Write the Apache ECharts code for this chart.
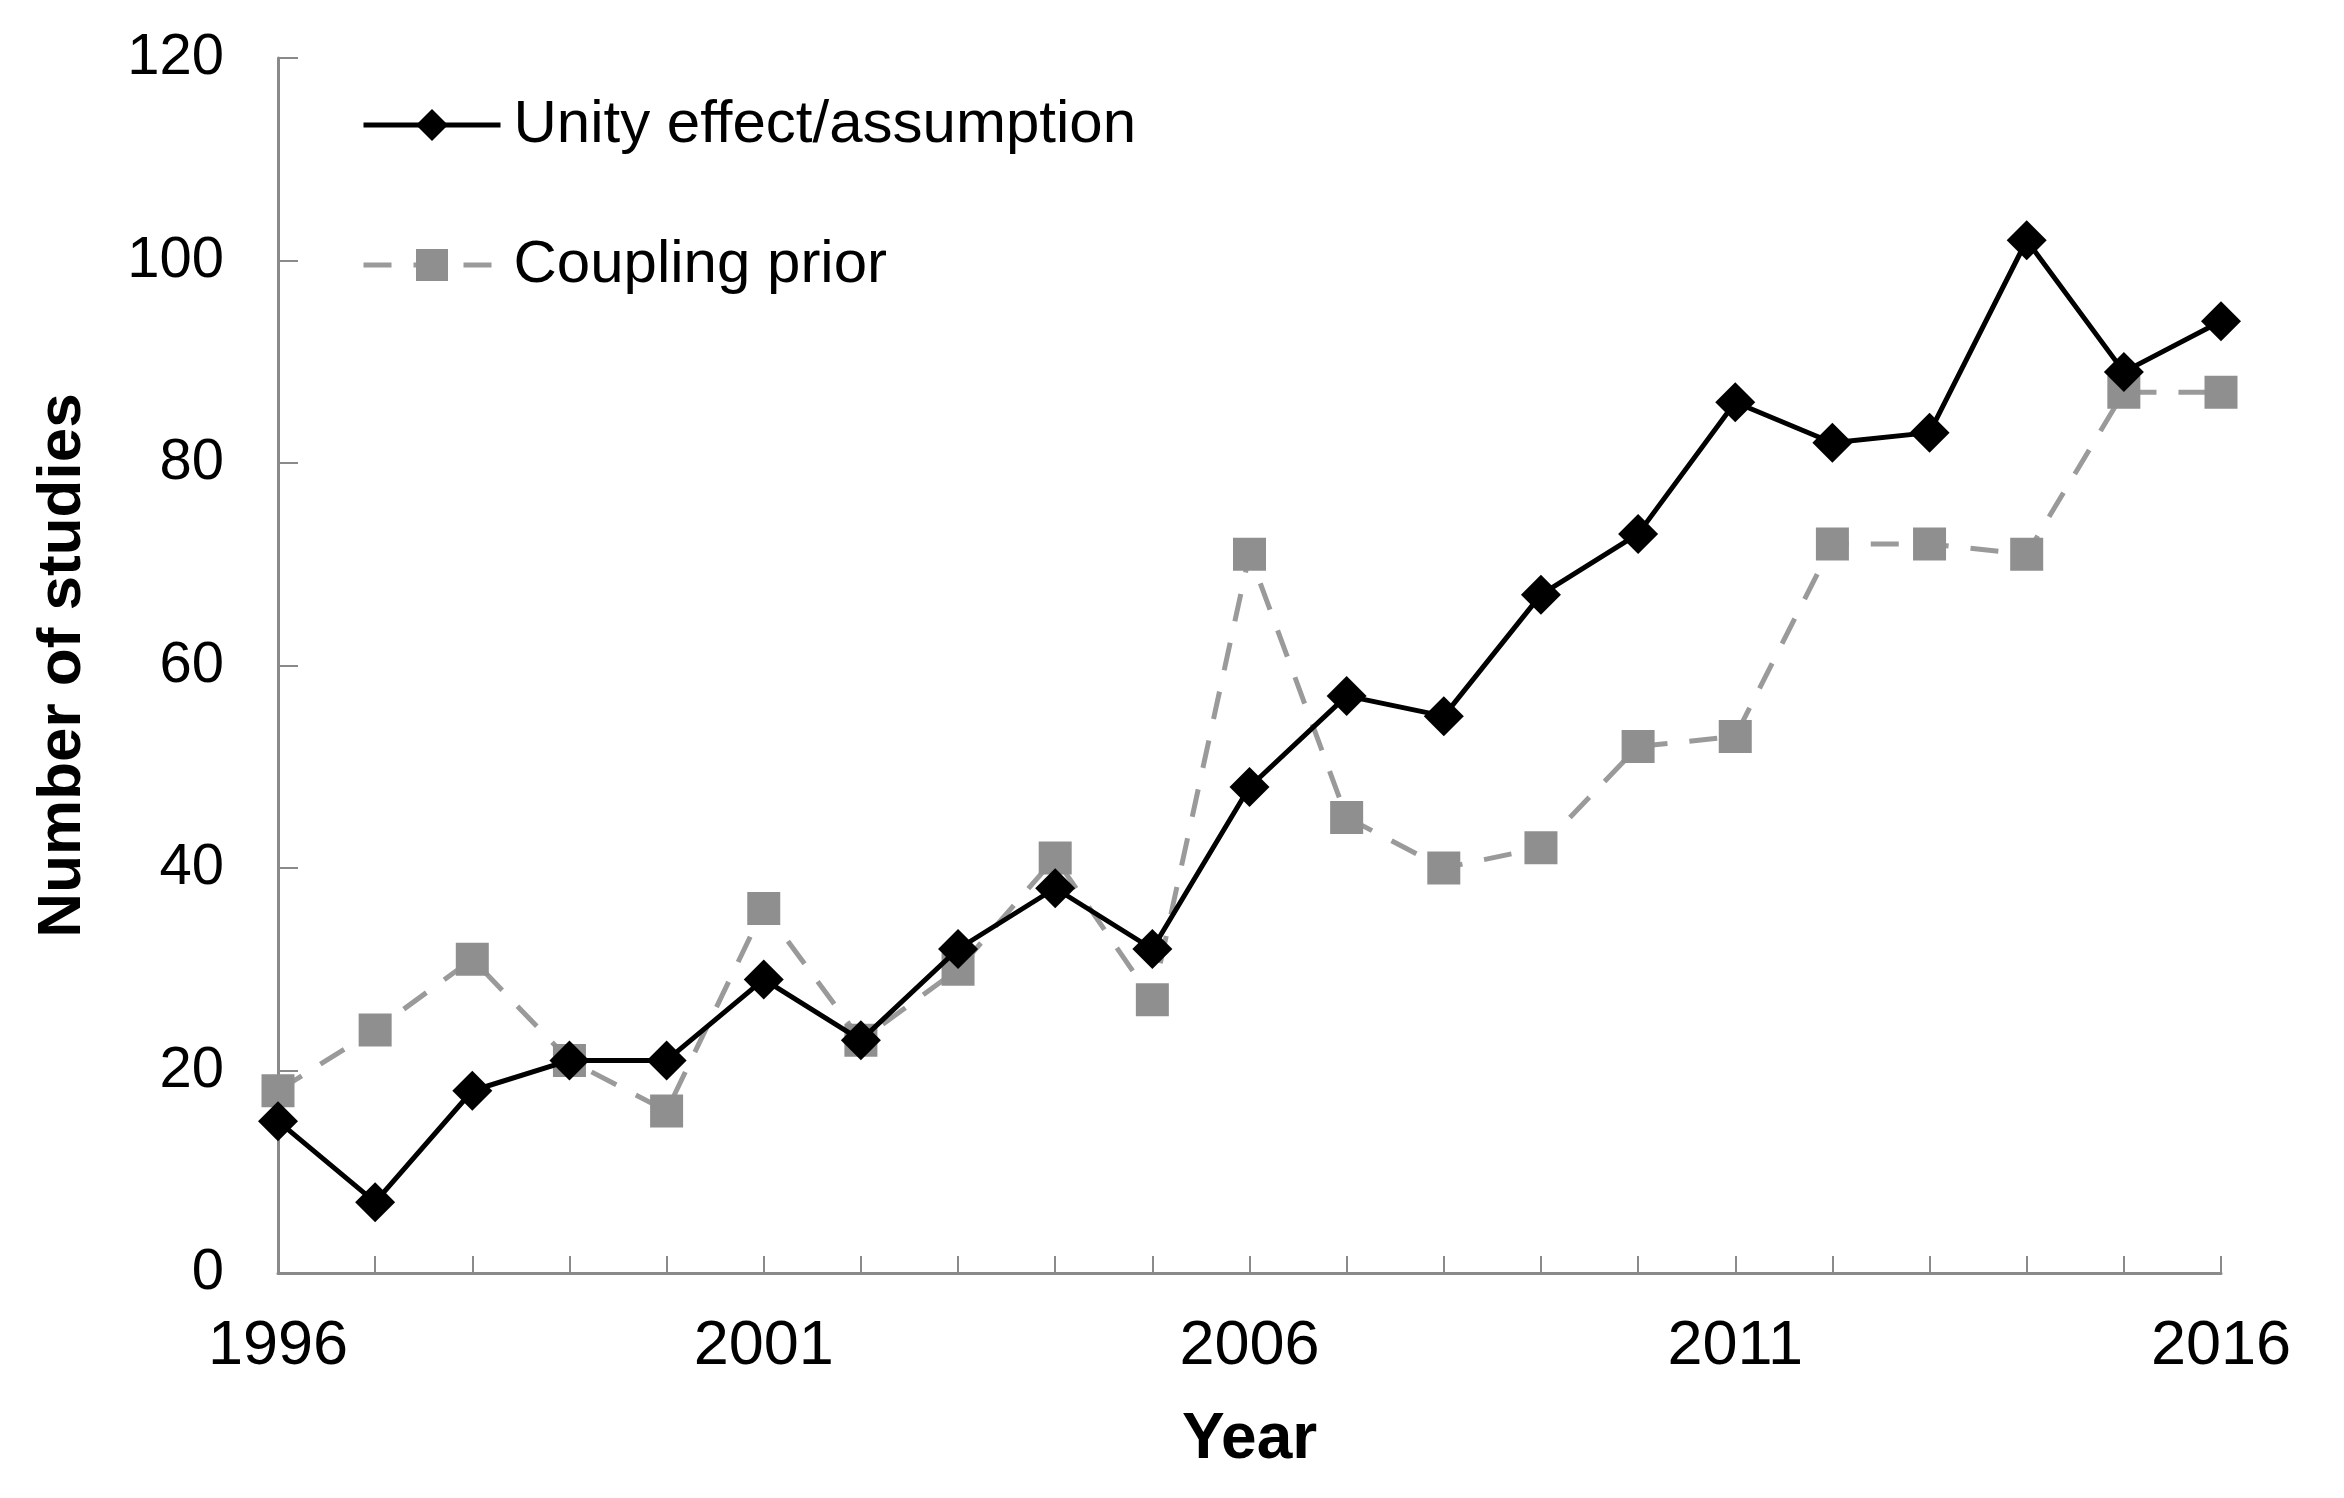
<!DOCTYPE html>
<html>
<head>
<meta charset="utf-8">
<script src="https://cdn.jsdelivr.net/npm/echarts@6/dist/echarts.min.js"></script>
<style>html,body{margin:0;padding:0;background:#fff}#c{width:2344px;height:1498px}</style>
</head>
<body>
<div id="c"></div>
<script>
const years = ['1996','1997','1998','1999','2000','2001','2002','2003','2004','2005','2006','2007','2008','2009','2010','2011','2012','2013','2014','2015','2016'];
const unity = [15,7,18,21,21,29,23,32,38,32,48,57,55,67,73,86,82,83,102,89,94];
const coupling = [18,24,31,21,16,36,23,30,41,27,71,45,40,42,52,53,72,72,71,87,87];
const yTicks = {min:0, max:120, interval:20};

const font = 'Liberation Sans, Arial, sans-serif';
const chart = echarts.init(document.getElementById('c'));
chart.setOption({
  backgroundColor:'#fff',
  animation:false,
  grid:{left:278, right:123, top:58, bottom:225},
  legend:{
    orient:'vertical', left:356, top:90, itemWidth:137, itemHeight:40, itemGap:80,
    textStyle:{fontFamily:font, fontSize:60, color:'#000', padding:[0,0,0,8]},
    lineStyle:{width:5},
    data:['Unity effect/assumption','Coupling prior']
  },
  xAxis:{
    type:'category', data:years, boundaryGap:false,
    name:'Year', nameLocation:'middle', nameGap:135,
    nameTextStyle:{fontFamily:font, fontSize:64, fontWeight:'bold', color:'#000'},
    axisLine:{lineStyle:{color:'#8a8a8a', width:3}},
    axisTick:{inside:true, length:17, interval:0, lineStyle:{color:'#8a8a8a', width:2}},
    axisLabel:{interval:4, margin:42, fontFamily:font, fontSize:63, color:'#000'},
    splitLine:{show:false}
  },
  yAxis:{
    type:'value', min:yTicks.min, max:yTicks.max, interval:yTicks.interval,
    name:'Number of studies', nameLocation:'middle', nameGap:184,
    nameTextStyle:{fontFamily:font, fontSize:62, fontWeight:'bold', color:'#000'},
    axisLine:{show:true, lineStyle:{color:'#8a8a8a', width:3}},
    axisTick:{show:true, inside:true, length:20, lineStyle:{color:'#8a8a8a', width:2}},
    axisLabel:{margin:54, fontFamily:font, fontSize:58, color:'#000'},
    splitLine:{show:false}
  },
  series:[
    {
      name:'Coupling prior', type:'line', data:coupling,
      symbol:'rect', symbolSize:33,
      itemStyle:{color:'#8f8f8f'},
      lineStyle:{color:'#9a9a9a', width:5, type:[28,22]},
      z:2
    },
    {
      name:'Unity effect/assumption', type:'line', data:unity,
      symbol:'diamond', symbolSize:40,
      itemStyle:{color:'#000'},
      lineStyle:{color:'#000', width:5},
      z:3
    }
  ]
});
</script>
</body>
</html>
